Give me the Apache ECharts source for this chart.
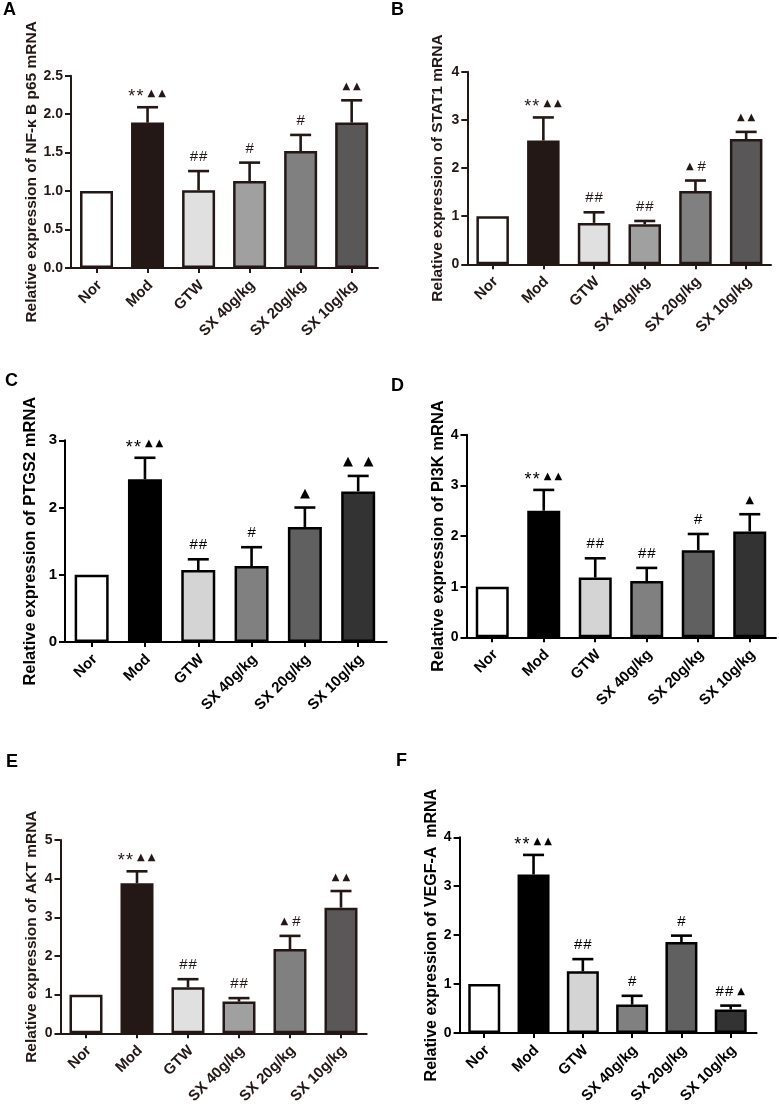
<!DOCTYPE html>
<html><head><meta charset="utf-8">
<script src="https://cdn.jsdelivr.net/npm/echarts@6/dist/echarts.min.js"></script>
<style>html,body{margin:0;padding:0;background:#fff}#c{width:779px;height:1107px}</style>
</head><body><div id="c"></div>
<script>
// ---------- data ----------
const categories = ['Nor', 'Mod', 'GTW', 'SX 40g/kg', 'SX 20g/kg', 'SX 10g/kg'];

const titleA = 'Relative expression of NF-\u03ba B p65 mRNA';
const meanA  = [1.00, 1.89, 1.01, 1.13, 1.52, 1.89];
const upperA = [1.00, 2.09, 1.26, 1.37, 1.73, 2.18];
const noteA  = ['', '**\u25b2\u25b2', '##', '#', '#', '\u25b2\u25b2'];
const ticksA = ['0.0', '0.5', '1.0', '1.5', '2.0', '2.5'];

const titleB = 'Relative expression of STAT1 mRNA';
const meanB  = [1.00, 2.57, 0.86, 0.83, 1.52, 2.60];
const upperB = [1.00, 3.05, 1.08, 0.90, 1.74, 2.75];
const noteB  = ['', '**\u25b2\u25b2', '##', '##', '\u25b2#', '\u25b2\u25b2'];
const ticksB = ['0', '1', '2', '3', '4'];

const titleC = 'Relative expression of PTGS2 mRNA';
const meanC  = [1.00, 2.42, 1.07, 1.13, 1.71, 2.24];
const upperC = [1.00, 2.74, 1.23, 1.41, 2.00, 2.47];
const noteC  = ['', '**\u25b2\u25b2', '##', '#', '\u25b2', '\u25b2 \u25b2'];
const ticksC = ['0', '1', '2', '3'];

const titleD = 'Relative expression of PI3K mRNA';
const meanD  = [1.00, 2.50, 1.18, 1.11, 1.72, 2.09];
const upperD = [1.00, 2.91, 1.56, 1.37, 2.04, 2.43];
const noteD  = ['', '**\u25b2\u25b2', '##', '##', '#', '\u25b2'];
const ticksD = ['0', '1', '2', '3', '4'];

const titleE = 'Relative expression of AKT mRNA';
const meanE  = [1.00, 3.88, 1.19, 0.82, 2.18, 3.25];
const upperE = [1.00, 4.19, 1.40, 0.91, 2.52, 3.68];
const noteE  = ['', '**\u25b2\u25b2', '##', '##', '\u25b2#', '\u25b2\u25b2'];
const ticksE = ['0', '1', '2', '3', '4', '5'];

const titleF = 'Relative expression of VEGF-A  mRNA';
const meanF  = [1.00, 3.24, 1.26, 0.58, 1.86, 0.48];
const upperF = [1.00, 3.64, 1.51, 0.76, 1.99, 0.56];
const noteF  = ['', '**\u25b2\u25b2', '##', '#', '#', '##\u25b2'];
const ticksF = ['0', '1', '2', '3', '4'];

// ---------- styles / layout ----------
const fillsWarm = ['#ffffff', '#231815', '#e0e0e0', '#a0a0a0', '#808080', '#595757'];
const fillsCool = ['#ffffff', '#000000', '#d4d4d4', '#808080', '#606060', '#333333'];

const panels = [
  {letter:'A', lx:3, ly:1, title:titleA, mean:meanA, upper:upperA, notes:noteA, ticks:ticksA,
   left:71, top:75.7, width:307, height:192.3, xMax:5.516, barW:33,
   fills:fillsWarm, stroke:'#231815', nameGap:28, nameSize:15.5, tickSize:14, triSize:10, triAlone:10},
  {letter:'B', lx:391, ly:1, title:titleB, mean:meanB, upper:upperB, notes:noteB, ticks:ticksB,
   left:467.3, top:71.7, width:303.7, height:192.6, xMax:5.49, barW:32.5,
   fills:fillsWarm, stroke:'#231815', nameGap:22, nameSize:15.5, tickSize:14, triSize:10, triAlone:10},
  {letter:'C', lx:5, ly:372, title:titleC, mean:meanC, upper:upperC, notes:noteC, ticks:ticksC,
   left:65, top:440.3, width:321.7, height:201.7, xMax:5.535, barW:34,
   fills:fillsCool, stroke:'#000000', nameGap:26, nameSize:16.5, tickSize:15, triSize:10, triAlone:13},
  {letter:'D', lx:391, ly:377, title:titleD, mean:meanD, upper:upperD, notes:noteD, ticks:ticksD,
   left:466.5, top:434.7, width:309.5, height:202.6, xMax:5.51, barW:33,
   fills:fillsCool, stroke:'#000000', nameGap:19, nameSize:16.5, tickSize:14, triSize:10, triAlone:11},
  {letter:'E', lx:6, ly:753, title:titleE, mean:meanE, upper:upperE, notes:noteE, ticks:ticksE,
   left:60.5, top:840, width:306.2, height:193.3, xMax:5.504, barW:33,
   fills:fillsWarm, stroke:'#231815', nameGap:21, nameSize:15.5, tickSize:14, triSize:10, triAlone:10},
  {letter:'F', lx:396, ly:752, title:titleF, mean:meanF, upper:upperF, notes:noteF, ticks:ticksF,
   left:459.6, top:837.3, width:297, height:195.7, xMax:5.525, barW:32,
   fills:fillsCool, stroke:'#000000', nameGap:17, nameSize:16, tickSize:14, triSize:10, triAlone:10}
];

const FONT = '"Liberation Sans", Arial, sans-serif';
const TRI_FONT = '"DejaVu Sans", sans-serif';
const catIdx = categories.map((_, i) => i);
const labelPos = categories.map((_, i) => i + 0.06);

function charSpec(c, triSize) {
  if (c === '\u25b2') return {cls:'t', font: triSize + 'px ' + TRI_FONT, adv: triSize + 0.6, dy: 0};
  if (c === '*') return {cls:'a', font: '18px ' + FONT, adv: 8.2, dy: 4};
  if (c === '#') return {cls:'h', font: '15px ' + FONT, adv: 9.3, dy: 0};
  return {cls:'s', font: '15px ' + FONT, adv: 3, dy: 0};
}

function noteElements(note, cx, cy, p) {
  const onlyTri = /^[\u25b2\s]+$/.test(note);
  const triSize = onlyTri ? p.triAlone : p.triSize;
  const specs = Array.from(note).map(c => ({c, ...charSpec(c, triSize)}));
  let total = 0;
  specs.forEach((s, j) => {
    if (j > 0 && specs[j-1].cls !== s.cls) total += 2;
    total += s.adv;
  });
  let x = cx - total / 2;
  const out = [];
  specs.forEach((s, j) => {
    if (j > 0 && specs[j-1].cls !== s.cls) x += 2;
    if (s.cls !== 's') {
      out.push({type:'text', style:{text:s.c, x: x + s.adv / 2, y: cy + s.dy, align:'center',
        verticalAlign:'middle', font:s.font, fill:p.stroke}});
    }
    x += s.adv;
  });
  return out;
}

const grid = [], xAxis = [], yAxis = [], series = [], graphic = [];
panels.forEach((p, k) => {
  const tickVals = p.ticks.map(Number);
  const dec = (p.ticks[0].split('.')[1] || '').length;
  grid.push({left:p.left, top:p.top, width:p.width, height:p.height, containLabel:false, outerBoundsMode:'none'});
  xAxis.push({
    gridIndex:k, type:'value', min:-0.5, max:p.xMax,
    axisLine:{show:true, onZero:false, lineStyle:{color:p.stroke, width:2}},
    axisTick:{show:true, length:5, customValues:catIdx, lineStyle:{color:p.stroke, width:2}},
    axisLabel:{customValues:labelPos, rotate:45, margin:15, fontSize:15, fontWeight:'bold',
      fontFamily:FONT, color:p.stroke, formatter: v => categories[Math.round(v)]},
    splitLine:{show:false}
  });
  yAxis.push({
    gridIndex:k, type:'value', min:tickVals[0], max:tickVals[tickVals.length-1],
    interval:tickVals[1]-tickVals[0],
    axisLine:{show:true, onZero:false, lineStyle:{color:p.stroke, width:2}},
    axisTick:{show:true, length:6, lineStyle:{color:p.stroke, width:2}},
    axisLabel:{margin:8, fontSize:p.tickSize, fontWeight:'bold', fontFamily:FONT, color:p.stroke,
      formatter: v => v.toFixed(dec)},
    splitLine:{show:false},
    name:p.title, nameLocation:'middle', nameRotate:90, nameGap:p.nameGap,
    nameTextStyle:{fontSize:p.nameSize, fontWeight:'bold', fontFamily:FONT, color:p.stroke}
  });
  series.push({
    type:'bar', xAxisIndex:k, yAxisIndex:k, barWidth:p.barW, silent:true,
    itemStyle:{borderColor:p.stroke, borderWidth:2.5},
    data:p.mean.map((v, i) => ({value:[i, v], itemStyle:{color:p.fills[i]}}))
  });
  series.push({
    type:'custom', xAxisIndex:k, yAxisIndex:k, silent:true, z:5,
    data:p.mean.map((v, i) => [i, v, p.upper[i]]),
    renderItem:(params, api) => {
      const i = params.dataIndex;
      const x = api.value(0), m = api.value(1), u = api.value(2);
      const b = api.coord([x, m]), t = api.coord([x, u]);
      let ch = [];
      const cap = 21;
      if (u > m) {
        ch.push({type:'line', shape:{x1:b[0], y1:b[1], x2:t[0], y2:t[1]}, style:{stroke:p.stroke, lineWidth:2.6}});
        ch.push({type:'line', shape:{x1:t[0]-cap/2, y1:t[1], x2:t[0]+cap/2, y2:t[1]}, style:{stroke:p.stroke, lineWidth:2.6}});
      }
      const note = p.notes[i];
      if (note) ch = ch.concat(noteElements(note, t[0], t[1] - 14, p));
      return {type:'group', children:ch};
    }
  });
  graphic.push({type:'text', left:p.lx, top:p.ly,
    style:{text:p.letter, font:'bold 18px ' + FONT, fill:'#000'}});
});

const chart = echarts.init(document.getElementById('c'), null, {renderer:'canvas'});
chart.setOption({animation:false, backgroundColor:'#ffffff', grid, xAxis, yAxis, series, graphic});
</script>
</body></html>
